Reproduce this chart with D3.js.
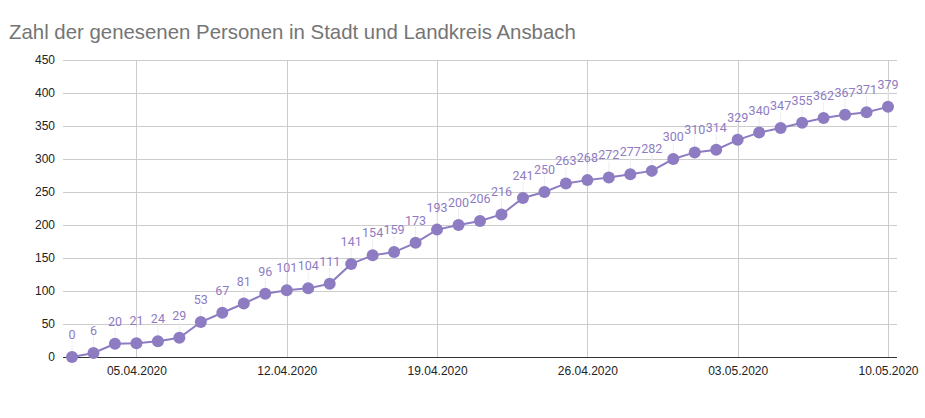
<!DOCTYPE html>
<html>
<head>
<meta charset="utf-8">
<script src="https://cdn.jsdelivr.net/npm/d3@7"></script>
<style>
  body { margin: 0; background: #fff; }
  svg { display: block; }
</style>
</head>
<body>
<div id="chart"></div>
<script>
// Genesene Personen, Stadt und Landkreis Ansbach
var startDate = "2020-04-02";
var recovered = [0, 6, 20, 21, 24, 29, 53, 67, 81, 96, 101, 104, 111, 141, 154, 159, 173,
    193, 200, 206, 216, 241, 250, 263, 268, 272, 277, 282, 300, 310, 314, 329, 340, 347,
    355, 362, 367, 371, 379];
var xTickDates = ["2020-04-05", "2020-04-12", "2020-04-19", "2020-04-26", "2020-05-03", "2020-05-10"];
var yTicks = [0, 50, 100, 150, 200, 250, 300, 350, 400, 450];

var width = 925,
    height = 418;
var color = "#8e7cc3";

var parse = d3.utcParse("%Y-%m-%d");
var fmt = d3.utcFormat("%d.%m.%Y");
var day0 = parse(startDate);
var data = recovered.map(function(v, i) {
    return { date: d3.utcDay.offset(day0, i), value: v };
});

var x = d3.scaleUtc()
    .domain([day0, data[data.length - 1].date])
    .range([72, 888]);
var y = d3.scaleLinear()
    .domain([0, 450])
    .range([357, 60]);

var svg = d3.select("#chart").append("svg")
    .attr("width", width)
    .attr("height", height);

svg.append("text")
    .attr("x", 9)
    .attr("y", 39)
    .style("font-family", "Arial, 'Liberation Sans', sans-serif")
    .style("font-size", "20.4px")
    .style("fill", "#757575")
    .text("Zahl der genesenen Personen in Stadt und Landkreis Ansbach");

// horizontal grid
svg.append("g")
    .selectAll("line")
    .data(yTicks)
    .enter().append("line")
    .attr("x1", 63).attr("x2", 897)
    .attr("y1", function(d) { return y(d) + 0.5; })
    .attr("y2", function(d) { return y(d) + 0.5; })
    .style("stroke", "#cccccc");

// vertical grid
svg.append("g")
    .selectAll("line")
    .data(xTickDates.map(parse))
    .enter().append("line")
    .attr("x1", function(d) { return Math.round(x(d)) + 0.5; })
    .attr("x2", function(d) { return Math.round(x(d)) + 0.5; })
    .attr("y1", 60).attr("y2", 357)
    .style("stroke", "#cccccc");

// y axis
var yAxis = svg.append("g")
    .attr("transform", "translate(55,0)")
    .call(d3.axisLeft(y).tickValues(yTicks).tickSize(0).tickPadding(0));
yAxis.select(".domain").remove();
yAxis.selectAll("text")
    .style("font-family", "Arial, 'Liberation Sans', sans-serif")
    .style("font-size", "12px")
    .style("fill", "#222");

// x axis
var xAxis = svg.append("g")
    .attr("transform", "translate(0,357)")
    .call(d3.axisBottom(x).tickValues(xTickDates.map(parse)).tickFormat(fmt).tickSize(0).tickPadding(9));
xAxis.select(".domain").remove();
xAxis.selectAll("text")
    .style("font-family", "Arial, 'Liberation Sans', sans-serif")
    .style("font-size", "12px")
    .style("fill", "#222");

svg.append("line")
    .attr("x1", 63).attr("x2", 897)
    .attr("y1", 357.5).attr("y2", 357.5)
    .style("stroke", "#333");

// leader lines
svg.append("g")
    .selectAll("line")
    .data(data)
    .enter().append("line")
    .attr("x1", function(d) { return x(d.date); })
    .attr("x2", function(d) { return x(d.date); })
    .attr("y1", function(d) { return y(d.value) - 16; })
    .attr("y2", function(d) { return y(d.value); })
    .style("stroke", "#eeeeee");

var line = d3.line()
    .x(function(d) { return x(d.date); })
    .y(function(d) { return y(d.value); });

svg.append("path")
    .datum(data)
    .attr("d", line)
    .style("fill", "none")
    .style("stroke", color)
    .style("stroke-width", 2);

svg.append("g")
    .selectAll("circle")
    .data(data)
    .enter().append("circle")
    .attr("cx", function(d) { return x(d.date); })
    .attr("cy", function(d) { return y(d.value); })
    .attr("r", 6)
    .style("fill", color);

svg.append("g")
    .selectAll("text")
    .data(data)
    .enter().append("text")
    .attr("x", function(d) { return x(d.date); })
    .attr("y", function(d) { return y(d.value) - 18; })
    .attr("text-anchor", "middle")
    .style("font-family", "Roboto, sans-serif")
    .style("font-size", "12.5px")
    .style("fill", color)
    .text(function(d) { return d.value; });
</script>
</body>
</html>
